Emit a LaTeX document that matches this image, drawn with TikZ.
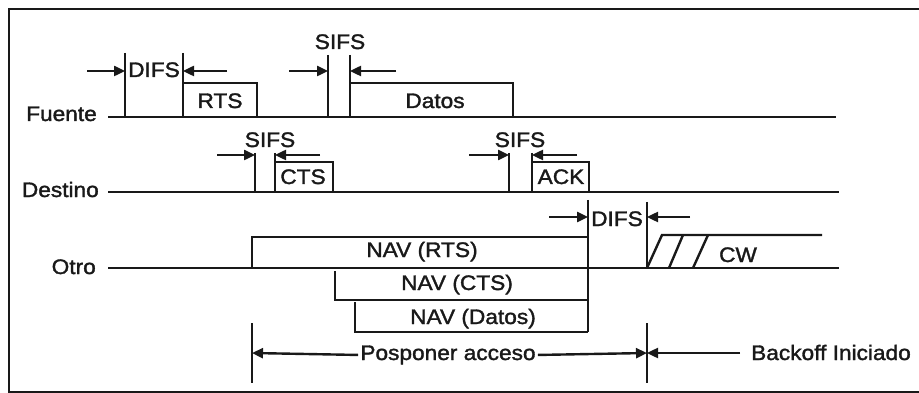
\documentclass[tikz,border=0pt]{standalone}
\usepackage{fontspec}
\setmainfont{Liberation Sans}[FakeStretch=1.08,FakeBold=1.6]
\usetikzlibrary{arrows.meta,positioning}

\begin{document}
\begin{tikzpicture}
[x=1pt,y=-1pt,
line width=2.4pt,draw=black!90,
every node/.style={font=\fontsize{21}{24}\selectfont,inner sep=0pt,text=black!90},
lab/.style={anchor=base east},
tag/.style={anchor=base},
arr/.style={-{Triangle[length=11pt,width=10pt]},line width=2.4pt}]
\useasboundingbox (0,0) rectangle (919,393);
% marco
\draw (919,9) -- (9,9) -- (9,392) -- (919,392);

% Fuente
\node[lab] (fuente) at (98,121) {Fuente};
\draw (108,117) -- (836,117);
\draw (125,53) -- (125,117);
\draw (183,53) -- (183,117);
\draw (183,83) -- (257,83) -- (257,117);
\draw (328,55) -- (328,117);
\draw (350,55) -- (350,117);
\draw (350,83) -- (513,83) -- (513,117);
\draw[arr] (87,71) -- (125,71);
\draw[arr] (227,71) -- (183,71);
\draw[arr] (289,71) -- (328,71);
\draw[arr] (396,71) -- (350,71);
\node[tag] (difsA) at (154,77) {DIFS};
\node[tag] (rts) at (220,108) {RTS};
\node[tag] (sifsA) at (340,49) {SIFS};
\node[tag] (datos) at (435,108) {Datos};

% Destino
\node[lab] (destino) at (100,197) {Destino};
\draw (108,192) -- (839,192);
\draw (255,153) -- (255,192);
\draw (275,153) -- (275,192);
\draw (275,162) -- (333,162) -- (333,192);
\draw[arr] (217,155) -- (255,155);
\draw[arr] (320,155) -- (275,155);
\draw (509,153) -- (509,192);
\draw (532,153) -- (532,192);
\draw (532,162) -- (589,162) -- (589,192);
\draw[arr] (469,155) -- (509,155);
\draw[arr] (577,155) -- (532,155);
\node[tag] (sifsB) at (270,147) {SIFS};
\node[tag] (cts) at (303,184) {CTS};
\node[tag] (sifsC) at (520,147) {SIFS};
\node[tag] (ack) at (561,184) {ACK};

% Otro
\node[lab] (otro) at (97,274) {Otro};
\draw (108,268) -- (839,268);
\draw (252,268) -- (252,237) -- (588,237);
\draw (588,200) -- (588,332);
\draw (335,271) -- (335,300) -- (588,300);
\draw (355,302) -- (355,332) -- (588,332);
\node[tag] (navrts) at (422,257) {NAV (RTS)};
\node[tag] (navcts) at (457,290) {NAV (CTS)};
\node[tag] (navdatos) at (473,324) {NAV (Datos)};
\draw (647,202) -- (647,268);
\draw[arr] (549,217) -- (588,217);
\draw[arr] (690,217) -- (647,217);
\node[tag] (difsB) at (617,226) {DIFS};
\draw (647,268) -- (662,235) -- (822,235);
\draw (669,268) -- (683,235);
\draw (693,268) -- (708,235);
\node[tag] (cw) at (738,262) {CW};

% acceso
\draw (252,323) -- (252,383);
\draw (647,323) -- (647,383);
\node[tag,inner xsep=1pt] (posp) at (448,360) {Posponer acceso};
\node[tag] (backoff) at (831,360) {Backoff Iniciado};
\draw[arr] (posp.west) -- (252,353);
\draw[arr] (posp.east) -- (647,353);
\draw[arr] (740,353) -- (647,353);
\end{tikzpicture}
\end{document}
